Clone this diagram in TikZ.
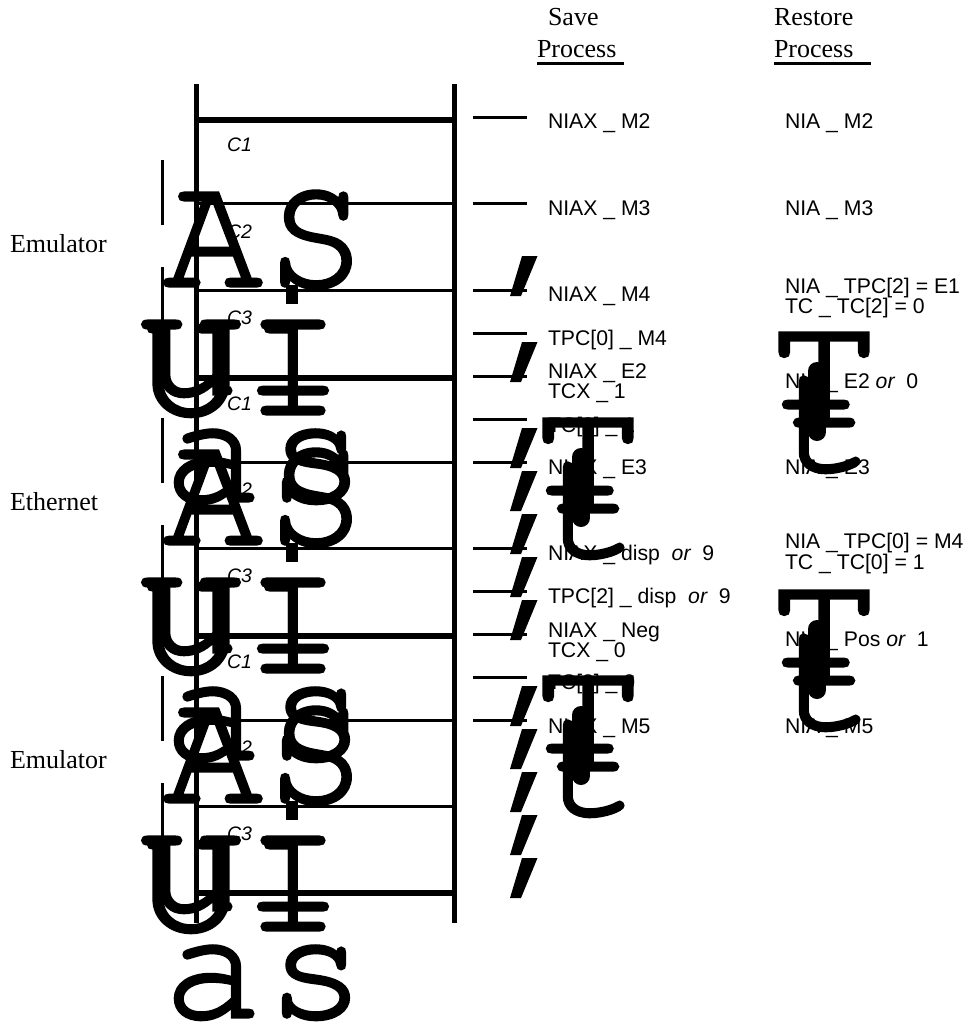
\documentclass[tikz,border=0pt]{standalone}
\usepackage{graphicx}
\usepackage{fontspec}
\setmainfont{Liberation Serif}
\setsansfont{Liberation Sans}
\newfontfamily\bigf[FakeBold=2]{TeX Gyre Cursor}
\newcommand{\bigglyph}[2][1]{\scalebox{#1}[1]{\fontsize{165}{165}\selectfont\bigf #2}}
\tikzset{
  bigch/.style={inner sep=0pt,outer sep=0pt,anchor=base,text=black},
  lab/.style={inner sep=0pt,outer sep=0pt,anchor=base west,font=\fontsize{21.2}{22}\selectfont\sffamily,text=black},
  cyc/.style={inner sep=0pt,outer sep=0pt,anchor=base west,font=\fontsize{19.5}{20}\selectfont\sffamily\itshape,text=black},
  head/.style={inner sep=0pt,outer sep=0pt,anchor=base west,font=\fontsize{26}{27}\selectfont\rmfamily,text=black},
  rail/.style={line width=5pt,black},
  thickrung/.style={line width=5.5pt,black},
  thinrung/.style={line width=3pt,black},
  tick/.style={line width=3pt,black},
  underl/.style={line width=3pt,black},
  sl/.style={fill=black,draw=none}
}
\begin{document}
\begin{tikzpicture}[x=1pt,y=-1pt]
\useasboundingbox (0,0) rectangle (967,1024);
\coordinate (r1t) at (196,84); \coordinate (r1b) at (196,923);
\coordinate (r2t) at (454,84); \coordinate (r2b) at (454,923);
\draw[rail] (r1t) -- (r1b);
\draw[rail] (r2t) -- (r2b);
\foreach \yy in {120,378,636,893} \draw[thickrung] (196,\yy) -- (454,\yy);
\foreach \yy in {204,290,462,548,720,806} \draw[thinrung] (196,\yy) -- (454,\yy);
\foreach \yy in {118,204,290,333,376,419,462,548,591,634,677,720} \draw[tick] (473,\yy) -- (527,\yy);
\foreach \yy in {160,267,418,525,676,783} \draw[tick] (162,\yy) -- (162,\yy+65);
\foreach \yy in {256,342,428,471,514,557,600,686,729,772,815,858}
  \fill[sl] (522,\yy) -- (537.5,\yy) -- (521,\yy+40) -- (510,\yy+40) -- cycle;
\foreach \yy/\t [count=\i] in {152/C1,238/C2,324/C3,410/C1,496/C2,582/C3,668/C1,754/C2,840/C3}
  \node[cyc] (cy\i) at (227,\yy) {\t};
\node[head] (em1) at (10,252) {Emulator};
\node[head] (eth) at (10,510) {Ethernet};
\node[head] (em2) at (10,768) {Emulator};
\node[head] (sv) at (548,26) {Save};
\node[head] (spr) at (537,58) {Process};
\node[head] (rs) at (774,26) {Restore};
\node[head] (rpr) at (774,58) {Process};
\coordinate (su1) at (537,64); \coordinate (su2) at (624,64);
\coordinate (ru1) at (774,64); \coordinate (ru2) at (871,64);
\draw[underl] (su1) -- (su2);
\draw[underl] (ru1) -- (ru2);
\foreach \yy/\t [count=\i] in {
 129/NIAX \_ M2,215/NIAX \_ M3,301/NIAX \_ M4,345/TPC[0] \_ M4,378/NIAX \_ E2,398/TCX \_ 1,
 432/TC[0] \_ 1,474/NIAX \_ E3,560/NIAX \_ disp \ {\itshape or} \ 9,603/TPC[2] \_ disp \ {\itshape or} \ 9,
 637/NIAX \_ Neg,657/TCX \_ 0,689/TC[2] \_ 0,733/NIAX \_ M5}
  \node[lab] (sa\i) at (548,\yy) {\t};
\foreach \yy/\t [count=\i] in {
 129/NIA \_ M2,215/NIA \_ M3,293/NIA \_ TPC[2] = E1,313/TC \_ TC[2] = 0,388/NIA \_ E2 {\itshape or} \ 0,
 474/NIA \_ E3,548/NIA \_ TPC[0] = M4,569/TC \_ TC[0] = 1,646/NIA \_ Pos {\itshape or} \ 1,733/NIA \_ M5}
  \node[lab] (re\i) at (785,\yy) {\t};
\foreach \dy [count=\g] in {0,258,516} {
  \node[bigch] (gA\g) at (213,286+\dy) {\bigglyph{A}};
  \node[bigch] (gS\g) at (316,286+\dy) {\bigglyph{S}};
  \node[bigch] (gU\g) at (191,414+\dy) {\bigglyph[1.12]{U}};
  \node[bigch] (gI\g) at (293,414+\dy) {\bigglyph{I}};
  \node[bigch] (gu\g) at (191,394+\dy) {\bigglyph{u}};
  \node[bigch] (gi\g) at (293,394+\dy) {\bigglyph{\char"0131}};
  \node[bigch] (ga\g) at (213,501+\dy) {\bigglyph{a}};
  \node[bigch] (gs\g) at (316,501+\dy) {\bigglyph{s}};
  \fill (286,285+\dy) rectangle (298,304+\dy);
}
\foreach \ox/\oy [count=\g] in {0/0,0/258,236/-86,236/172} {
  \node[bigch] (gT\g) at (588+\ox,512+\oy) {\bigglyph[1.16]{T}};
  \node[bigch] (gt\g) at (590+\ox,556+\oy) {\bigglyph{t}};
  \draw[line width=18pt,line cap=round] (581+\ox,457+\oy) -- (581+\ox,518+\oy);
}
\end{tikzpicture}
\end{document}
